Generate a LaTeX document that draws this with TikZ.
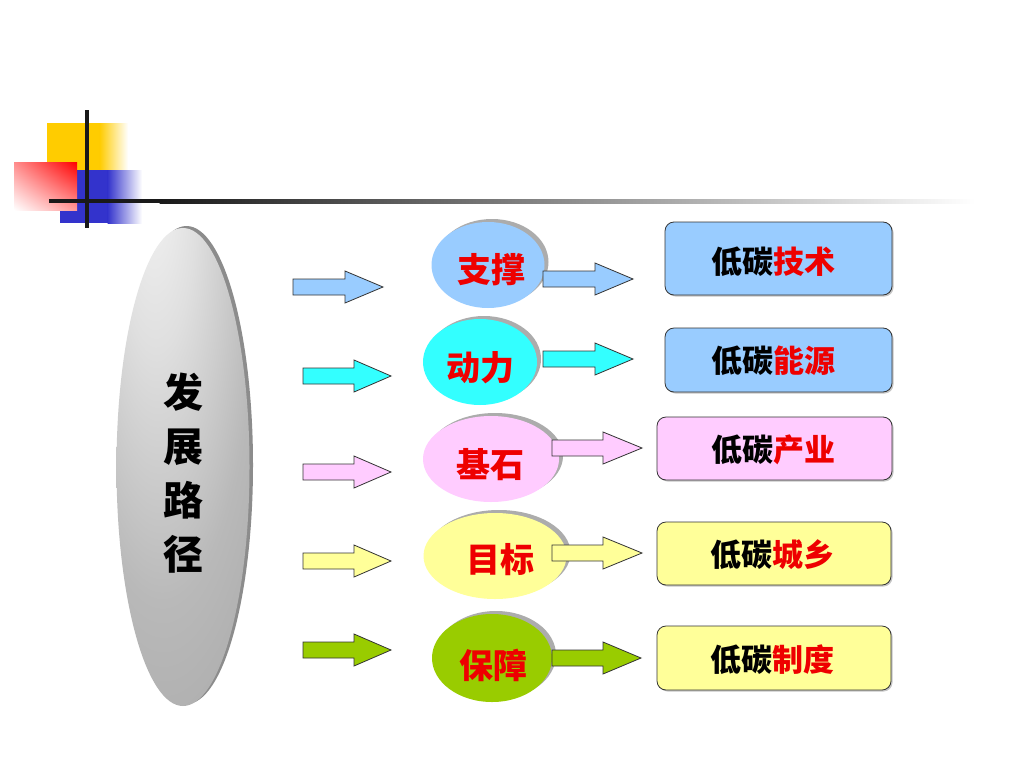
\documentclass[tikz,border=0pt]{standalone}
\usepackage{fontspec}
\newfontfamily\cjk{Noto Sans CJK SC}
\usetikzlibrary{shapes.geometric,shadows,shadings}
\definecolor{blueA}{HTML}{99CCFF}
\definecolor{cyanA}{HTML}{33FFFF}
\definecolor{pinkA}{HTML}{FFCCFF}
\definecolor{yellowA}{HTML}{FFFF99}
\definecolor{greenA}{HTML}{99CC00}
\definecolor{goldA}{HTML}{FFCC00}
\definecolor{navyA}{HTML}{3333CC}
\definecolor{edgeA}{HTML}{333333}
\definecolor{redA}{HTML}{EE0000}
\pgfdeclareradialshading{ovalshade}{\pgfpoint{-12bp}{32bp}}{color(0bp)=(white!92!gray); color(15bp)=(white!75!gray); color(35bp)=(gray!55); color(60bp)=(gray!72); color(100bp)=(gray!80)}
\newcommand\barrow[5]{\draw[arrowbox, fill=#1] (#2,#5-8) -- (#3,#5-8) -- (#3,#5-16) -- (#4,#5) -- (#3,#5+16) -- (#3,#5+8) -- (#2,#5+8) -- cycle;}
\tikzset{
  arrowbox/.style={draw=edgeA, line width=0.8pt, line join=miter},
  bubble/.style={ellipse, inner sep=0pt, draw=none,
    drop shadow={shadow xshift=4pt, shadow yshift=3pt, fill=gray!65, opacity=1}},
  ctext/.style={font=\cjk\bfseries\fontsize{34}{36}\selectfont, text=redA, inner sep=0pt},
  rbox/.style={rectangle, rounded corners=9pt, draw=edgeA, line width=0.8pt, inner sep=0pt,
    drop shadow={shadow xshift=1.5pt, shadow yshift=-1.5pt, fill=gray!45, opacity=1}},
  btext/.style={font=\cjk\bfseries\fontsize{31}{33}\selectfont, inner sep=0pt},
  vtext/.style={font=\cjk\bfseries\fontsize{40}{54}\selectfont, align=center, inner sep=0pt},
}
\begin{document}
\begin{tikzpicture}[x=1pt,y=-1pt]
\useasboundingbox[fill=white] (0,0) rectangle (1024,768);
% --- corner decoration ---
\fill[goldA] (47,123) rectangle (100,172);
\shade[left color=goldA, right color=white] (99.5,123) rectangle (128,172);
\fill[navyA] (60,170) rectangle (108,223);
\shade[left color=navyA, right color=white] (107.5,170) rectangle (142,223);
\shade[upper right=red, lower left=white, upper left=red!45!white, lower right=red!40!white] (14,162) rectangle (77,210);
\fill[black!90] (49,199) rectangle (160,203);
\shade[left color=black!90, right color=white] (159.5,199) rectangle (975,203);
\draw[black!90, line width=4pt] (87,110) -- (87,228);
% --- big oval ---
\node[ellipse, minimum width=133pt, minimum height=478pt, inner sep=0pt, shading=ovalshade,
  drop shadow={shadow xshift=3.5pt, shadow yshift=2pt, fill=gray!90, opacity=1}] (path) at (183,467) {};
\node[vtext] (pathlabel) at (183,473) {发\\展\\路\\径};
% --- left arrows ---
\barrow{blueA}{293}{345}{383}{287}
\barrow{cyanA}{303}{354}{391}{376}
\barrow{pinkA}{303}{354}{391}{472}
\barrow{yellowA}{303}{354}{391}{561}
\barrow{greenA}{303}{354}{391}{650}
% --- bubbles ---
\node[bubble, fill=blueA, minimum width=113pt, minimum height=86pt] (c1) at (488,265) {};
\node[bubble, fill=cyanA, minimum width=114pt, minimum height=86pt] (c2) at (480,362) {};
\node[bubble, fill=pinkA, minimum width=136pt, minimum height=86pt] (c3) at (491,459) {};
\node[bubble, fill=yellowA, minimum width=143pt, minimum height=86pt] (c4) at (495,556) {};
\node[bubble, fill=greenA, minimum width=120pt, minimum height=88pt] (c5) at (492,658) {};
\node[ctext] (t1) at (491,270) {支撑};
\node[ctext] (t2) at (480,368) {动力};
\node[ctext] (t3) at (490,465) {基石};
\node[ctext] (t4) at (500,560) {目标};
\node[ctext] (t5) at (493,665) {保障};
% --- right arrows ---
\barrow{blueA}{543}{595}{633}{279}
\barrow{cyanA}{543}{595}{633}{359}
\barrow{pinkA}{552}{603}{642}{448}
\barrow{yellowA}{552}{603}{642}{553}
\barrow{greenA}{552}{603}{641}{658}
% --- boxes ---
\node[rbox, fill=blueA, minimum width=227pt, minimum height=73pt] (b1) at (778.5,258.5) {};
\node[rbox, fill=blueA, minimum width=227pt, minimum height=64pt] (b2) at (778.5,360) {};
\node[rbox, fill=pinkA, minimum width=235pt, minimum height=63pt] (b3) at (774.5,448.5) {};
\node[rbox, fill=yellowA, minimum width=234pt, minimum height=63pt] (b4) at (774,553.5) {};
\node[rbox, fill=yellowA, minimum width=234pt, minimum height=64pt] (b5) at (774,658) {};
\node[btext] (l1) at (773,262) {低碳\textcolor{redA}{技术}};
\node[btext] (l2) at (773,361) {低碳\textcolor{redA}{能源}};
\node[btext] (l3) at (773,450) {低碳\textcolor{redA}{产业}};
\node[btext] (l4) at (772,555) {低碳\textcolor{redA}{城乡}};
\node[btext] (l5) at (772,660) {低碳\textcolor{redA}{制度}};
\end{tikzpicture}
\end{document}
